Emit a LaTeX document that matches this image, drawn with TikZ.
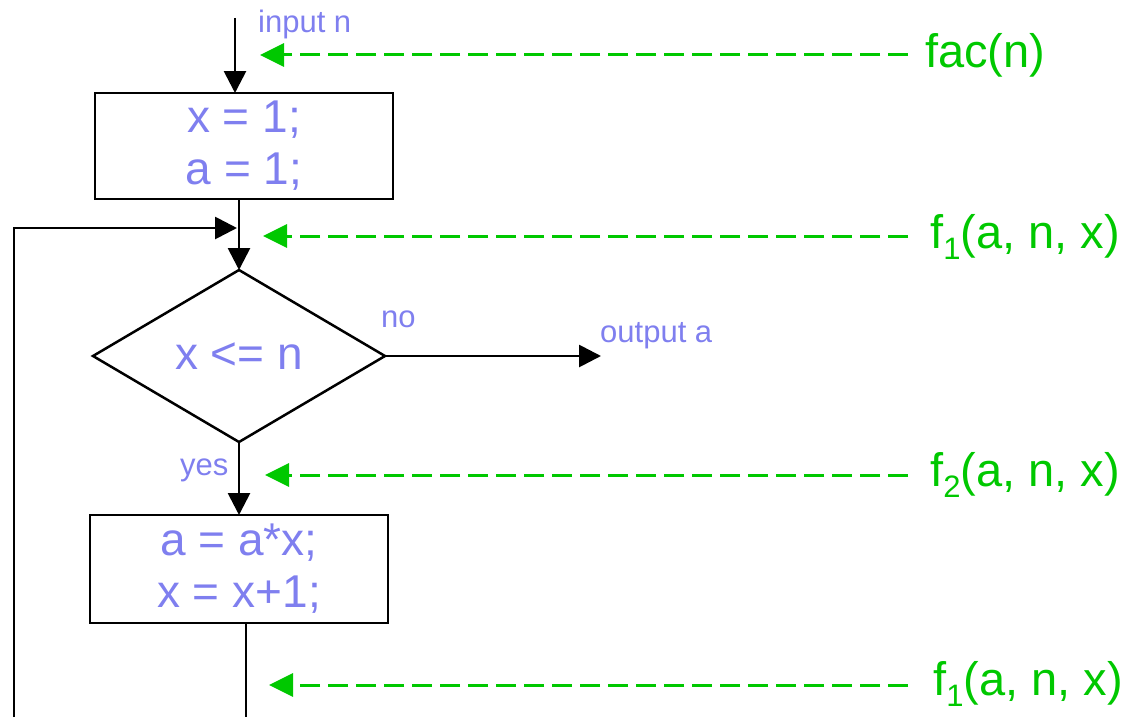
\documentclass[tikz,border=0pt]{standalone}
\usepackage{fontspec}
\setmainfont{Liberation Sans}
\usetikzlibrary{arrows.meta,shapes.geometric,calc}
\definecolor{txt}{RGB}{127,127,239}
\definecolor{grn}{RGB}{0,200,0}
\newcommand{\mysubone}{\raisebox{-11pt}{\fontsize{31}{36}\selectfont 1}}
\newcommand{\mysubtwo}{\raisebox{-11pt}{\fontsize{31}{36}\selectfont 2}}
\begin{document}
\begin{tikzpicture}[x=1pt,y=-1pt,
  flow/.style={line width=2.8pt, -{Triangle[length=22pt,width=22pt]}},
  plain/.style={line width=2.8pt},
  box/.style={draw, line width=2.5pt, minimum width=298pt, minimum height=106pt, inner sep=0pt, outer sep=0pt, align=center, text=txt, font=\fontsize{46}{52}\selectfont},
  lbl/.style={text=txt, font=\fontsize{31}{36}\selectfont, inner sep=0pt, anchor=base west},
  glbl/.style={text=grn, font=\fontsize{47}{56}\selectfont, inner sep=0pt, anchor=base west},
  gflow/.style={draw=grn, line width=3pt, dash pattern=on 20pt off 8pt, -{Triangle[length=24pt,width=23pt,fill=grn]}}
]
\useasboundingbox (0,0) rectangle (1129,717);

% nodes
\node[box] (b1) at (244,146) {x = 1;\\a = 1;};
\node[diamond, draw, line width=2.5pt, minimum width=292pt, minimum height=172pt, inner sep=0pt, outer sep=0pt, text=txt, font=\fontsize{46}{52}\selectfont] (d) at (239,356) {x <= n};
\node[box, minimum height=108pt] (b2) at (239,569) {a = a*x;\\x = x+1;};

% labels
\node[lbl] (inp) at (258,33) {input n};
\node[lbl] (no) at (381,327) {no};
\node[lbl] (outa) at (600,342) {output a};
\node[lbl] (yes) at (180,475) {yes};

\node[glbl] (fac) at (925,67) {fac(n)};
\node[glbl] (fa) at (930,248) {f\mysubone(a, n, x)};
\node[glbl] (fb) at (930,486) {f\mysubtwo(a, n, x)};
\node[glbl] (fc) at (933,695) {f\mysubone(a, n, x)};

% coordinates
\coordinate (in) at (235,18);
\coordinate (lb) at (14,717);
\coordinate (lt) at (14,228);
\coordinate (lj) at (237,228);
\coordinate (out) at (601,356);
\coordinate (bot) at (246,717);

\coordinate (g0s) at (908,55);  \coordinate (g0e) at (260,55);
\coordinate (g1s) at (908,236); \coordinate (g1e) at (263,236);
\coordinate (g2s) at (908,475); \coordinate (g2e) at (265,475);
\coordinate (g3s) at (908,685); \coordinate (g3e) at (269,685);

% connectors
\draw[flow] (in) -- (in |- b1.north);
\draw[flow] (d.north |- b1.south) -- (d.north);
\draw[flow] (lb) -- (lt) -- (lj);
\draw[flow] (d.east) -- (out);
\draw[flow] (d.south) -- (d.south |- b2.north);
\draw[plain] (b2.south -| bot) -- (bot);

\draw[gflow] (g0s) -- (g0e);
\draw[gflow] (g1s) -- (g1e);
\draw[gflow] (g2s) -- (g2e);
\draw[gflow] (g3s) -- (g3e);
\end{tikzpicture}
\end{document}
